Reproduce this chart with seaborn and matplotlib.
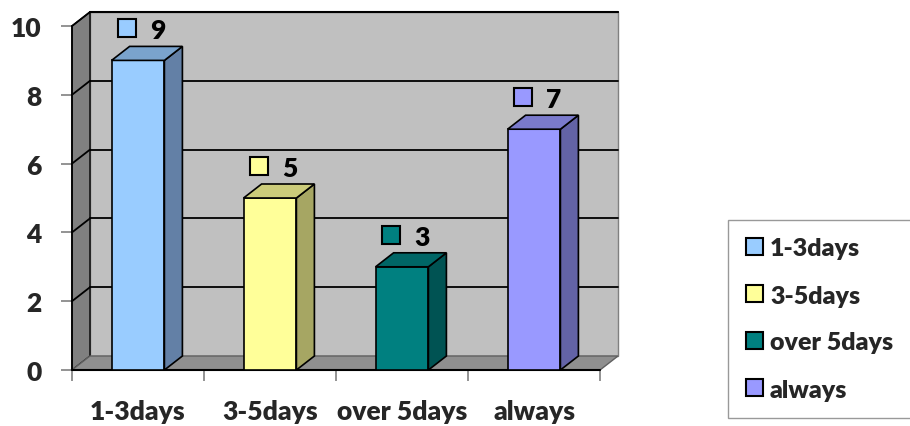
import matplotlib
matplotlib.use("Agg")
import matplotlib.pyplot as plt
from matplotlib.patches import Polygon, Patch
from matplotlib.transforms import ScaledTranslation
import seaborn as sns
import pandas as pd

# Survey data
categories = ["1-3days", "3-5days", "over 5days", "always"]
counts = [9, 5, 3, 7]
y_ticks = [0, 2, 4, 6, 8, 10]

front_colors = ["#99ccff", "#ffff99", "#008080", "#9999ff"]
side_colors = ["#6380a6", "#a6a663", "#005353", "#6363a6"]
top_colors = ["#7aa3cc", "#cccc7a", "#006666", "#7a7acc"]

WEIGHT = "heavy"

sns.set_theme(style="white")
plt.rcParams["font.family"] = ["Lato", "DejaVu Sans"]
plt.rcParams["font.weight"] = WEIGHT

fig = plt.figure(figsize=(9.10, 4.27), dpi=100)
ax = fig.add_axes([72 / 910, 56 / 427, 528 / 910, 344 / 427])

df = pd.DataFrame({"category": categories, "count": counts})
sns.barplot(data=df, x="category", y="count", hue="category",
            palette=front_colors, saturation=1, width=0.4, dodge=False,
            legend=False, edgecolor="black", linewidth=1.2, ax=ax, zorder=3)

ax.set_xlim(-0.5, 3.5)
ax.set_ylim(0, 10)

# depth offset of the 3-D box (data units)
dx, dy = 18 / 132, 14 / 34.4
x0, x1, ytop = -0.5, 3.5, 10


def poly(pts, fc, ec="black", lw=1.0, z=1):
    ax.add_patch(Polygon(pts, closed=True, facecolor=fc, edgecolor=ec,
                         linewidth=lw, zorder=z, clip_on=False))


# walls and floor
poly([(x0 + dx, dy), (x1 + dx, dy), (x1 + dx, ytop + dy), (x0 + dx, ytop + dy)],
     "#c0c0c0", ec="#808080", z=0.5)
ax.plot([x0 + dx, x1 + dx], [ytop + dy, ytop + dy], color="black", lw=1.5,
        zorder=0.9, clip_on=False)
poly([(x0, 0), (x0 + dx, dy), (x0 + dx, ytop + dy), (x0, ytop)], "#808080",
     ec="black", z=0.6)
poly([(x0, 0), (x1, 0), (x1 + dx, dy), (x0 + dx, dy)], "#8f8f8f",
     ec="#606060", z=0.6)

# gridlines on the back and side walls
for v in y_ticks[1:]:
    ax.plot([x0 + dx, x1 + dx], [v + dy, v + dy], color="black", lw=1.3,
            zorder=0.8, clip_on=False)
    ax.plot([x0, x0 + dx], [v, v + dy], color="black", lw=1.3,
            zorder=0.8, clip_on=False)
ax.plot([x0, x1], [0, 0], color="black", lw=1.5, zorder=1, clip_on=False)
ax.plot([x0, x0], [0, ytop], color="black", lw=1.2, zorder=1, clip_on=False)

# side and top faces of each column, plus value labels
for i, bar in enumerate(ax.patches[:len(counts)]):
    bx, bw, bh = bar.get_x(), bar.get_width(), bar.get_height()
    xr = bx + bw
    poly([(xr, 0), (xr + dx, dy), (xr + dx, bh + dy), (xr, bh)],
         side_colors[i], lw=1.2, z=3)
    poly([(bx, bh), (xr, bh), (xr + dx, bh + dy), (bx + dx, bh + dy)],
         top_colors[i], lw=1.2, z=3)
    cx = bx + bw / 2
    ax.plot([cx], [bh + dy], marker="s", markersize=13.5,
            markerfacecolor=front_colors[i], markeredgecolor="black",
            markeredgewidth=1.5, linestyle="none", zorder=4, clip_on=False,
            transform=ax.transData + ScaledTranslation(
                -11 / 100, 18 / 100, fig.dpi_scale_trans))
    ax.annotate(f"{counts[i]}", xy=(cx, bh + dy), xytext=(20 * 0.72, 16 * 0.72),
                textcoords="offset points", ha="center", va="center",
                fontsize=19, fontweight=WEIGHT, color="black",
                annotation_clip=False)

for s in ax.spines.values():
    s.set_visible(False)

ax.set_yticks(y_ticks)
ax.set_yticklabels([str(v) for v in y_ticks])
ax.set_xticks([-0.5, 0.5, 1.5, 2.5, 3.5])
ax.set_xticklabels([])
ax.set_xticks(range(len(categories)), minor=True)
ax.set_xticklabels(categories, minor=True)
ax.tick_params(axis="y", which="major", length=8, width=1.2, color="#808080",
               left=True, pad=14, labelsize=19)
ax.tick_params(axis="x", which="major", length=8, width=1.2, color="#808080",
               bottom=True)
ax.tick_params(axis="x", which="minor", length=0, pad=21, labelsize=19)
for lab in ax.get_xticklabels(minor=True) + ax.get_yticklabels():
    lab.set_fontweight(WEIGHT)
ax.set_xlabel("")
ax.set_ylabel("")
ax.grid(False)

handles = [Patch(facecolor=c, edgecolor="black", linewidth=1.5) for c in front_colors]
leg = fig.legend(handles, categories, loc="upper left",
                 bbox_to_anchor=(728 / 910, 1 - 221 / 427), borderaxespad=0,
                 frameon=True, fancybox=False, edgecolor="#808080",
                 prop={"weight": WEIGHT, "size": 18}, handlelength=0.68,
                 handleheight=0.68, handletextpad=0.3, labelspacing=1.0,
                 borderpad=0.7)
leg.get_frame().set_linewidth(1.0)

fig.savefig("out.png", dpi=100)
